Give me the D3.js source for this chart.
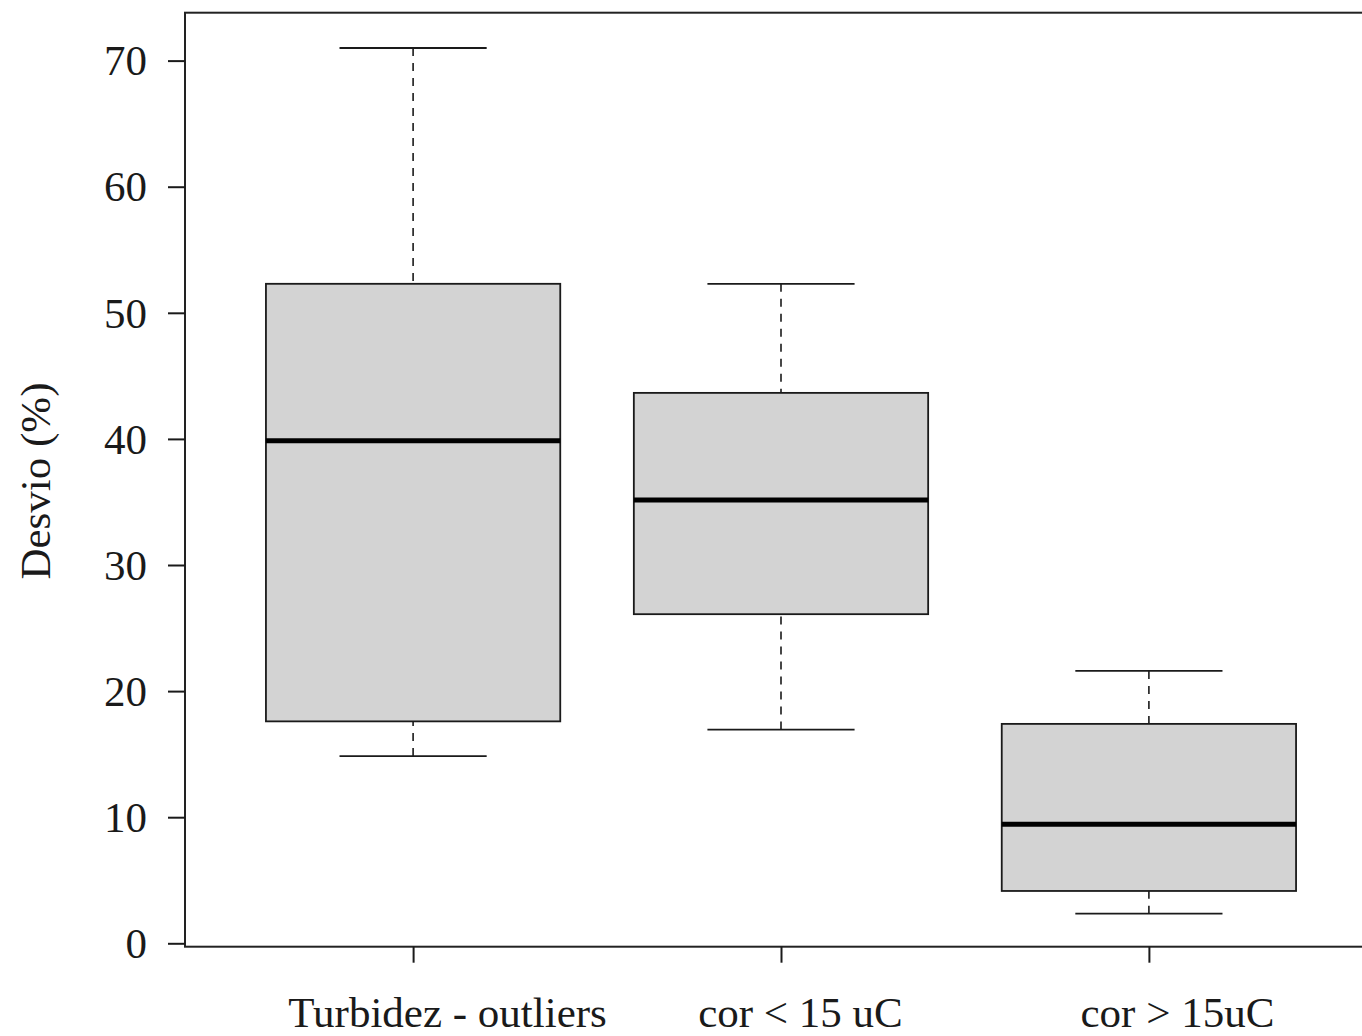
<!DOCTYPE html>
<html>
<head>
<meta charset="utf-8">
<script src="https://cdn.jsdelivr.net/npm/d3@7"></script>
<style>
  html, body { margin: 0; padding: 0; background: #fff; }
  svg { display: block; }
  text { font-family: "Liberation Serif", "Times New Roman", serif; fill: #1a1a1a; }
</style>
</head>
<body>
<svg id="chart" width="1362" height="1036"></svg>
<script>
// Groups and five-number summaries of the deviation (%)
const categories = ["Turbidez - outliers", "cor < 15 uC", "cor > 15uC"];
const whiskerLow  = [14.85, 16.95, 2.35];
const quartile1   = [17.6, 26.1, 4.15];
const medians     = [39.85, 35.15, 9.45];
const quartile3   = [52.3, 43.65, 17.4];
const whiskerHigh = [71.0, 52.3, 21.6];
const yTicks = [0, 10, 20, 30, 40, 50, 60, 70];
const yTitle = "Desvio (%)";

const boxes = categories.map((c, i) => ({
  name: c, pos: i + 1,
  lo: whiskerLow[i], q1: quartile1[i], med: medians[i], q3: quartile3[i], hi: whiskerHigh[i]
}));

// horizontal nudge of each category label relative to its tick
const labelShift = [34, 19, 28];

const svg = d3.select("#chart");
const plot = { left: 185, right: 1377, top: 12.7, bottom: 946.7 };

// Boxplot x extent: positions 1..n with half-unit margins plus 4% padding
const x = d3.scaleLinear().domain([0.38, 3.62]).range([plot.left, plot.right]);
const y = d3.scaleLinear().domain([-0.27, 73.8]).range([plot.bottom, plot.top]);

const unit = x(2) - x(1);
const boxHalf = unit * 0.4;
const capHalf = boxHalf * 0.5;
const ink = "#1a1a1a";

const g = svg.append("g");

// whiskers (dashed) and caps
boxes.forEach(b => {
  const cx = x(b.pos);
  g.append("line").attr("x1", cx).attr("x2", cx).attr("y1", y(b.hi)).attr("y2", y(b.q3))
    .attr("stroke", ink).attr("stroke-width", 1.6).attr("stroke-dasharray", "8,7");
  g.append("line").attr("x1", cx).attr("x2", cx).attr("y1", y(b.lo)).attr("y2", y(b.q1))
    .attr("stroke", ink).attr("stroke-width", 1.6).attr("stroke-dasharray", "8,7");
  g.append("line").attr("x1", cx - capHalf).attr("x2", cx + capHalf)
    .attr("y1", y(b.hi)).attr("y2", y(b.hi)).attr("stroke", ink).attr("stroke-width", 1.8);
  g.append("line").attr("x1", cx - capHalf).attr("x2", cx + capHalf)
    .attr("y1", y(b.lo)).attr("y2", y(b.lo)).attr("stroke", ink).attr("stroke-width", 1.8);
});

// boxes
g.selectAll("rect.box").data(boxes).join("rect")
  .attr("class", "box")
  .attr("x", d => x(d.pos) - boxHalf)
  .attr("width", boxHalf * 2)
  .attr("y", d => y(d.q3))
  .attr("height", d => y(d.q1) - y(d.q3))
  .attr("fill", "#d3d3d3")
  .attr("stroke", ink)
  .attr("stroke-width", 1.8);

// medians
g.selectAll("line.med").data(boxes).join("line")
  .attr("class", "med")
  .attr("x1", d => x(d.pos) - boxHalf)
  .attr("x2", d => x(d.pos) + boxHalf)
  .attr("y1", d => y(d.med)).attr("y2", d => y(d.med))
  .attr("stroke", "#000").attr("stroke-width", 5);

// plot frame
svg.append("rect")
  .attr("x", plot.left).attr("y", plot.top)
  .attr("width", plot.right - plot.left).attr("height", plot.bottom - plot.top)
  .attr("fill", "none").attr("stroke", "#222").attr("stroke-width", 2);

// y axis
const yAxis = svg.append("g")
  .attr("transform", `translate(${plot.left},0)`)
  .call(d3.axisLeft(y).tickValues(yTicks).tickSize(17).tickPadding(21).tickFormat(d3.format("d")));
yAxis.select(".domain").remove();
yAxis.selectAll(".tick line").attr("stroke", ink).attr("stroke-width", 2);
yAxis.selectAll(".tick text")
  .attr("font-size", 43).attr("font-family", "Liberation Serif, serif")
  .attr("fill", "#1a1a1a").attr("dy", "0.33em");

// x axis
const xAxis = svg.append("g")
  .attr("transform", `translate(0,${plot.bottom})`)
  .call(d3.axisBottom(x).tickValues(boxes.map(b => b.pos)).tickSize(16).tickPadding(0)
    .tickFormat(v => categories[v - 1]));
xAxis.select(".domain").remove();
xAxis.selectAll(".tick line").attr("stroke", ink).attr("stroke-width", 2);
xAxis.selectAll(".tick text")
  .attr("font-size", 43).attr("font-family", "Liberation Serif, serif")
  .attr("fill", "#1a1a1a").attr("y", 80).attr("dy", 0)
  .attr("x", (v) => labelShift[v - 1]);

// y axis title
svg.append("text")
  .attr("transform", "translate(50,481) rotate(-90)")
  .attr("text-anchor", "middle")
  .attr("font-size", 43)
  .text(yTitle);
</script>
</body>
</html>
